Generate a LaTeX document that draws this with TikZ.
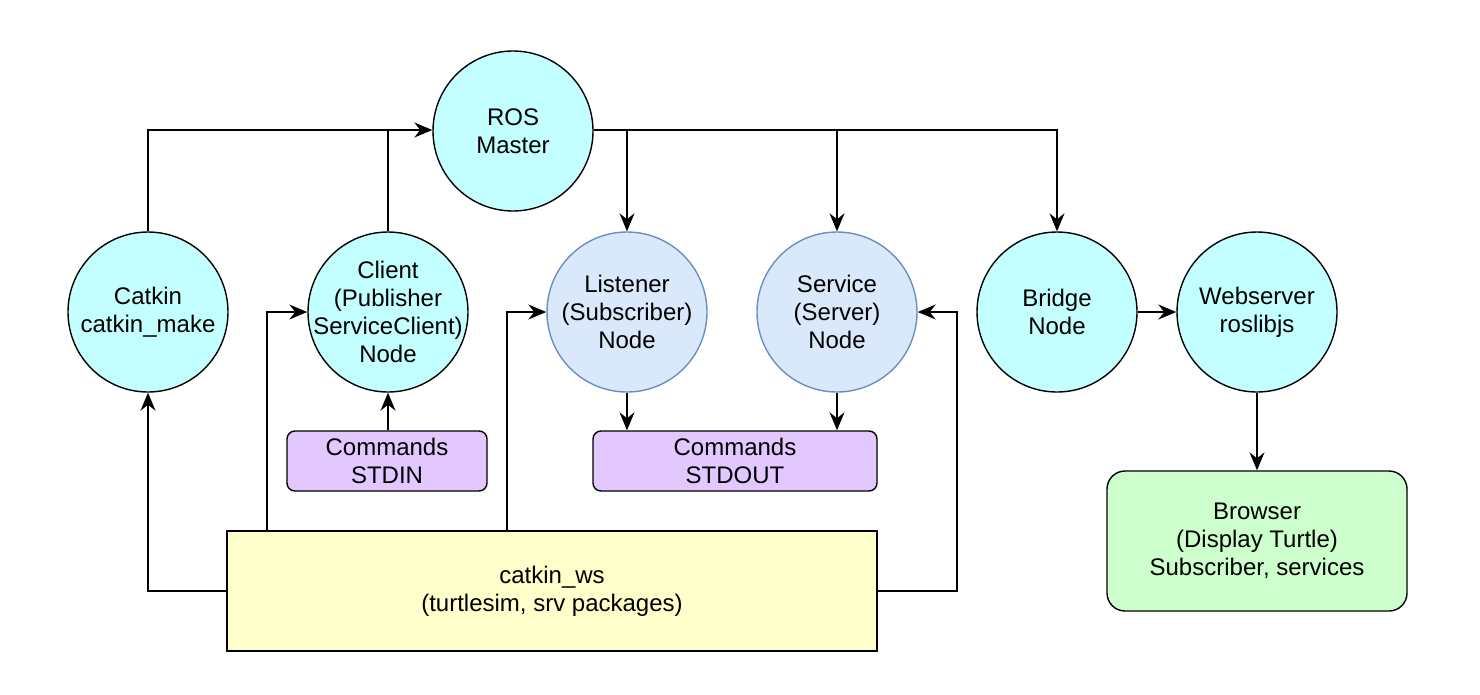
\documentclass[tikz,border=0pt]{standalone}
\usepackage{fontspec}
\setmainfont{Liberation Sans}
\usetikzlibrary{arrows.meta}
\definecolor{cyanfill}{HTML}{C4FFFF}
\definecolor{bluefill}{HTML}{DAE8FC}
\definecolor{bluestroke}{HTML}{6C8EBF}
\definecolor{purplefill}{HTML}{E3C8FF}
\definecolor{greenfill}{HTML}{CCFFCC}
\definecolor{yellowfill}{HTML}{FFFFCC}
\tikzset{
  every node/.style={font=\fontsize{24}{28}\selectfont, align=center, inner sep=0pt},
  rosnode/.style={circle, draw=black, line width=1.4pt, fill=cyanfill, minimum size=160pt},
  bluenode/.style={circle, draw=bluestroke, line width=1.4pt, fill=bluefill, minimum size=160pt},
  cmdbox/.style={rectangle, rounded corners=8pt, draw=black, line width=1.4pt, fill=purplefill},
  conn/.style={line width=1.5pt, -{Stealth[length=18pt,width=15pt,inset=6pt]}},
  plain/.style={line width=1.5pt}
}
\begin{document}
\begin{tikzpicture}[x=1pt,y=-1pt]
\useasboundingbox (0,0) rectangle (1480,694);
\fill[white] (0,0) rectangle (1480,694);

\node[rosnode] (ros) at (513,131) {ROS\\Master};
\node[rosnode] (catkin) at (148,312) {Catkin\\catkin\_make};
\node[rosnode] (client) at (388,312) {};
\node (clienttext) at (client) {Client\\(Publisher\\ServiceClient)\\Node};
\node[bluenode] (listener) at (627,312) {Listener\\(Subscriber)\\Node};
\node[bluenode] (service) at (837,312) {Service\\(Server)\\Node};
\node[rosnode] (bridge) at (1057,312) {Bridge\\Node};
\node[rosnode] (web) at (1257,312) {Webserver\\roslibjs};

\node[cmdbox, minimum width=200pt, minimum height=60pt] (stdin) at (387,461) {Commands\\STDIN};
\node[cmdbox, minimum width=284pt, minimum height=60pt] (stdout) at (735,461) {Commands\\STDOUT};
\node[rectangle, draw=black, line width=1.4pt, fill=yellowfill, minimum width=650pt, minimum height=120pt] (ws) at (552,591) {catkin\_ws\\(turtlesim, srv packages)};
\node[rectangle, rounded corners=18pt, draw=black, line width=1.4pt, fill=greenfill, minimum width=300pt, minimum height=140pt] (browser) at (1257,541) {Browser\\(Display Turtle)\\Subscriber, services};

% to ROS master
\coordinate (jc) at (388,130);
\draw[conn] (catkin.north) |- (ros.west |- jc);
\draw[plain] (client.north) -- (jc);

% from ROS master
\coordinate (jl) at (627,130);
\coordinate (js) at (837,130);
\draw[conn] (ros.east |- jc) -| (bridge.north);
\draw[conn] (jl) -- (listener.north);
\draw[conn] (js) -- (service.north);

\draw[conn] (bridge.east) -- (web.west);
\draw[conn] (web.south) -- (browser.north);

\draw[conn] (stdin.north -| client.south) -- (client.south);
\draw[conn] (listener.south) -- (listener.south |- stdout.north);
\draw[conn] (service.south) -- (service.south |- stdout.north);

% from catkin_ws
\draw[conn] (ws.west) -| (catkin.south);
\coordinate (w1) at (267,531);
\coordinate (w2) at (507,531);
\draw[conn] (w1) |- (client.west);
\draw[conn] (w2) |- (listener.west);
\draw[conn] (ws.east) -- (957,591) |- (service.east);
\end{tikzpicture}
\end{document}
